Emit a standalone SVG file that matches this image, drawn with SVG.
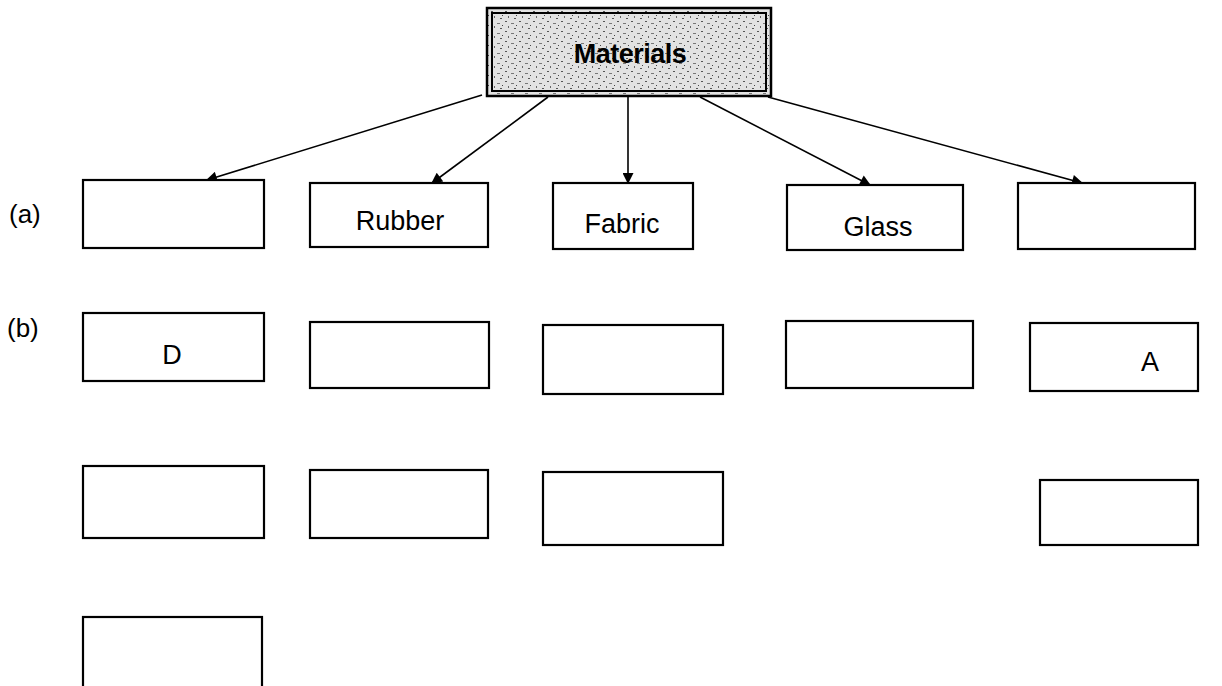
<svg xmlns="http://www.w3.org/2000/svg" width="1222" height="686" viewBox="0 0 1222 686">
<defs>
<marker id="arr" viewBox="0 0 10 10" refX="9" refY="5" markerWidth="13" markerHeight="11" orient="auto" markerUnits="userSpaceOnUse">
<path d="M0,0 L10,5 L0,10 z" fill="#000"/>
</marker>
<pattern id="speck" width="14" height="10" patternUnits="userSpaceOnUse">
<rect width="14" height="10" fill="#e2e2e2"/>
<rect x="1" y="1" width="2" height="1" fill="#555"/>
<rect x="7" y="3" width="3" height="1" fill="#777"/>
<rect x="4" y="6" width="1" height="2" fill="#666"/>
<rect x="10" y="8" width="2" height="1" fill="#555"/>
<rect x="12" y="5" width="1" height="1" fill="#444"/>
</pattern>
</defs>
<style>
.box{fill:#fff;stroke:#000;stroke-width:2.2}
.lbl{font-family:"Liberation Sans",Arial,sans-serif;font-size:27px;fill:#000;text-anchor:middle}
.side{font-family:"Liberation Sans",Arial,sans-serif;font-size:26px;fill:#000}
.conn{stroke:#000;stroke-width:1.6;fill:none;marker-end:url(#arr)}
</style>
<rect width="1222" height="686" fill="#fff"/>
<g id="connectors">
<line class="conn" x1="482" y1="95" x2="207" y2="180"/>
<line class="conn" x1="548" y1="97" x2="432" y2="183"/>
<line class="conn" x1="628" y1="97" x2="628" y2="183"/>
<line class="conn" x1="700" y1="97" x2="870" y2="185"/>
<line class="conn" x1="768" y1="97" x2="1082" y2="183"/>
</g>
<g id="materials">
<rect x="487" y="8" width="284" height="88" fill="url(#speck)" stroke="#000" stroke-width="2.5"/>
<rect x="492" y="13" width="274" height="78" fill="none" stroke="#000" stroke-width="2"/>
<text class="lbl" x="630" y="63" style="font-size:27px;font-weight:bold;letter-spacing:-0.5px">Materials</text>
</g>
<g id="label-a"><text class="side" x="9" y="223">(a)</text></g>
<g id="label-b"><text class="side" x="7" y="337">(b)</text></g>
<g id="a1"><rect class="box" x="83" y="180" width="181" height="68"/></g>
<g id="a2"><rect class="box" x="310" y="183" width="178" height="64"/><text class="lbl" x="400" y="230">Rubber</text></g>
<g id="a3"><rect class="box" x="553" y="183" width="140" height="66"/><text class="lbl" x="622" y="233">Fabric</text></g>
<g id="a4"><rect class="box" x="787" y="185" width="176" height="65"/><text class="lbl" x="878" y="236">Glass</text></g>
<g id="a5"><rect class="box" x="1018" y="183" width="177" height="66"/></g>
<g id="b1"><rect class="box" x="83" y="313" width="181" height="68"/><text class="lbl" x="172" y="364">D</text></g>
<g id="b2"><rect class="box" x="310" y="322" width="179" height="66"/></g>
<g id="b3"><rect class="box" x="543" y="325" width="180" height="69"/></g>
<g id="b4"><rect class="box" x="786" y="321" width="187" height="67"/></g>
<g id="b5"><rect class="box" x="1030" y="323" width="168" height="68"/><text class="lbl" x="1150" y="371">A</text></g>
<g id="c1"><rect class="box" x="83" y="466" width="181" height="72"/></g>
<g id="c2"><rect class="box" x="310" y="470" width="178" height="68"/></g>
<g id="c3"><rect class="box" x="543" y="472" width="180" height="73"/></g>
<g id="c5"><rect class="box" x="1040" y="480" width="158" height="65"/></g>
<g id="d1"><rect class="box" x="83" y="617" width="179" height="80"/></g>
</svg>
